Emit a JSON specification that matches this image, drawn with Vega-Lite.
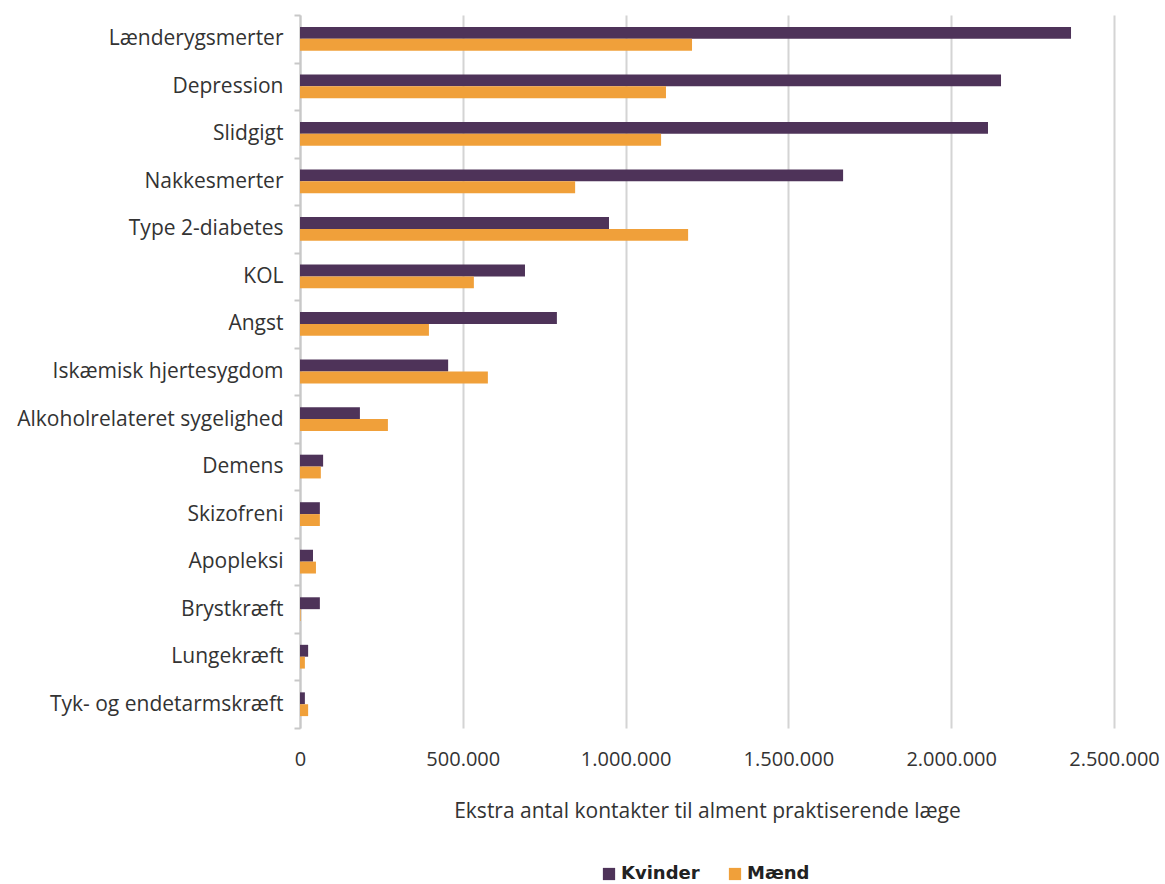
{
  "$schema": "https://vega.github.io/schema/vega-lite/v6.json",
  "autosize": "none",
  "width": 814,
  "height": 713,
  "padding": {"left": 300, "top": 15, "right": 51, "bottom": 156},
  "background": "white",
  "config": {
    "locale": {"number": {"decimal": ",", "thousands": ".", "grouping": [3], "currency": ["", " kr."]}},
    "font": "Open Sans",
    "view": {"stroke": null}
  },
  "data": {
    "values": [
      {"sygdom": "Lænderygsmerter", "koen": "Kvinder", "kontakter": 2368000},
      {"sygdom": "Lænderygsmerter", "koen": "Mænd", "kontakter": 1204000},
      {"sygdom": "Depression", "koen": "Kvinder", "kontakter": 2153000},
      {"sygdom": "Depression", "koen": "Mænd", "kontakter": 1124000},
      {"sygdom": "Slidgigt", "koen": "Kvinder", "kontakter": 2113000},
      {"sygdom": "Slidgigt", "koen": "Mænd", "kontakter": 1109000},
      {"sygdom": "Nakkesmerter", "koen": "Kvinder", "kontakter": 1668000},
      {"sygdom": "Nakkesmerter", "koen": "Mænd", "kontakter": 845000},
      {"sygdom": "Type 2-diabetes", "koen": "Kvinder", "kontakter": 949000},
      {"sygdom": "Type 2-diabetes", "koen": "Mænd", "kontakter": 1192000},
      {"sygdom": "KOL", "koen": "Kvinder", "kontakter": 691000},
      {"sygdom": "KOL", "koen": "Mænd", "kontakter": 534000},
      {"sygdom": "Angst", "koen": "Kvinder", "kontakter": 789000},
      {"sygdom": "Angst", "koen": "Mænd", "kontakter": 396000},
      {"sygdom": "Iskæmisk hjertesygdom", "koen": "Kvinder", "kontakter": 455000},
      {"sygdom": "Iskæmisk hjertesygdom", "koen": "Mænd", "kontakter": 577000},
      {"sygdom": "Alkoholrelateret sygelighed", "koen": "Kvinder", "kontakter": 184000},
      {"sygdom": "Alkoholrelateret sygelighed", "koen": "Mænd", "kontakter": 270000},
      {"sygdom": "Demens", "koen": "Kvinder", "kontakter": 71000},
      {"sygdom": "Demens", "koen": "Mænd", "kontakter": 64000},
      {"sygdom": "Skizofreni", "koen": "Kvinder", "kontakter": 61000},
      {"sygdom": "Skizofreni", "koen": "Mænd", "kontakter": 61000},
      {"sygdom": "Apopleksi", "koen": "Kvinder", "kontakter": 40000},
      {"sygdom": "Apopleksi", "koen": "Mænd", "kontakter": 49000},
      {"sygdom": "Brystkræft", "koen": "Kvinder", "kontakter": 61000},
      {"sygdom": "Brystkræft", "koen": "Mænd", "kontakter": 2000},
      {"sygdom": "Lungekræft", "koen": "Kvinder", "kontakter": 25000},
      {"sygdom": "Lungekræft", "koen": "Mænd", "kontakter": 15000},
      {"sygdom": "Tyk- og endetarmskræft", "koen": "Kvinder", "kontakter": 15000},
      {"sygdom": "Tyk- og endetarmskræft", "koen": "Mænd", "kontakter": 25000}
    ]
  },
  "mark": {"type": "bar"},
  "encoding": {
    "y": {
      "field": "sygdom",
      "type": "nominal",
      "sort": null,
      "scale": {"paddingInner": 0, "paddingOuter": 0},
      "axis": {
        "title": null,
        "tickBand": "extent",
        "domainColor": "#c8c8c8",
        "domainWidth": 2,
        "tickColor": "#c8c8c8",
        "tickWidth": 2,
        "tickSize": 6,
        "labelPadding": 11,
        "labelFontSize": 21,
        "labelLimit": 400,
        "labelColor": "#333333"
      }
    },
    "yOffset": {
      "field": "koen",
      "type": "nominal",
      "sort": ["Kvinder", "Mænd"],
      "scale": {"paddingInner": 0, "paddingOuter": 1}
    },
    "x": {
      "field": "kontakter",
      "type": "quantitative",
      "scale": {"domain": [0, 2500000]},
      "axis": {
        "title": "Ekstra antal kontakter til alment praktiserende læge",
        "titleFontSize": 21,
        "titleFontWeight": "normal",
        "titleColor": "#333333",
        "titlePadding": 31,
        "values": [0, 500000, 1000000, 1500000, 2000000, 2500000],
        "format": ",.0f",
        "domain": false,
        "ticks": false,
        "labelOverlap": false,
        "labelFlush": false,
        "labelPadding": 21,
        "labelFontSize": 20,
        "labelColor": "#333333",
        "grid": true,
        "gridColor": "#d4d4d4",
        "gridWidth": 2
      }
    },
    "color": {
      "field": "koen",
      "type": "nominal",
      "sort": ["Kvinder", "Mænd"],
      "scale": {"domain": ["Kvinder", "Mænd"], "range": ["#4e3359", "#f0a03a"]},
      "legend": {
        "title": null,
        "orient": "none",
        "direction": "horizontal",
        "legendX": 300,
        "legendY": 850,
        "symbolType": "square",
        "symbolSize": 150,
        "symbolOpacity": 1,
        "labelFontSize": 18,
        "labelFontWeight": "bold",
        "labelFont": "DejaVu Sans",
        "labelColor": "#222222",
        "columnPadding": 26,
        "labelOffset": 3
      }
    }
  }
}
